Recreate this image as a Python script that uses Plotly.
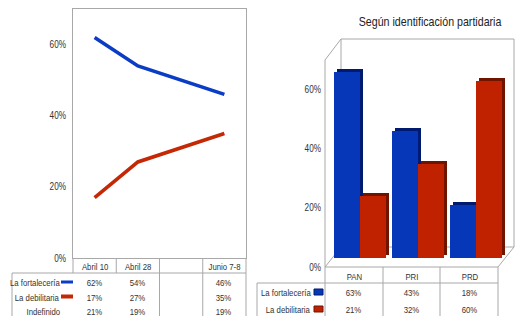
import plotly.graph_objects as go

# ---------------- data ----------------
fechas = ["Abril 10", "Abril 28", "", "Junio 7-8"]
fortaleceria_fecha = [62, 54, None, 46]
debilitaria_fecha = [17, 27, None, 35]
indefinido_fecha = [21, 19, None, 19]

partidos = ["PAN", "PRI", "PRD"]
fortaleceria_partido = [63, 43, 18]
debilitaria_partido = [21, 32, 60]

serie_nombres = ["La fortalecería", "La debilitaria", "Indefinido"]
titulo_derecha = "Según identificación partidaria"
y_ticks = [0, 20, 40, 60]

# ---------------- style ----------------
W, H = 519, 316
FONT = "Liberation Sans, Arial, sans-serif"
BLUE = "#0a3cc4"
RED = "#c42805"
BAR_BLUE = "#0537b8"
BAR_RED = "#c02200"
DARK_BLUE = "#001a70"
DARK_RED = "#701400"
GRID = "#a8a8a8"
TXT = "#333333"
TS = 9.5  # table font size


def px(x):
    return x / W


def py(y):
    return 1 - y / H


def fmt(v):
    return "" if v is None else f"{v}%"


fig = go.Figure()
xs = list(range(len(fechas)))

# left line chart
fig.add_trace(go.Scatter(x=xs, y=fortaleceria_fecha, mode="lines", connectgaps=True,
                         line=dict(color=BLUE, width=3.6), xaxis="x", yaxis="y",
                         showlegend=False, hoverinfo="skip"))
fig.add_trace(go.Scatter(x=xs, y=debilitaria_fecha, mode="lines", connectgaps=True,
                         line=dict(color=RED, width=3.6), xaxis="x", yaxis="y",
                         showlegend=False, hoverinfo="skip"))

# right pseudo-3D bars
xb = list(range(len(partidos)))
bw = 0.44
dx = 3 / 58.0
dy = 1.0
fig.add_trace(go.Bar(x=xb, y=fortaleceria_partido, base=dy, offset=-bw + dx, width=bw,
                     marker=dict(color=DARK_BLUE, line=dict(width=0)),
                     xaxis="x2", yaxis="y2", showlegend=False, hoverinfo="skip"))
fig.add_trace(go.Bar(x=xb, y=fortaleceria_partido, offset=-bw, width=bw,
                     marker=dict(color=BAR_BLUE, line=dict(width=0)),
                     xaxis="x2", yaxis="y2", showlegend=False, hoverinfo="skip"))
fig.add_trace(go.Bar(x=xb, y=debilitaria_partido, base=dy, offset=dx, width=bw,
                     marker=dict(color=DARK_RED, line=dict(width=0)),
                     xaxis="x2", yaxis="y2", showlegend=False, hoverinfo="skip"))
fig.add_trace(go.Bar(x=xb, y=debilitaria_partido, offset=0, width=bw,
                     marker=dict(color=BAR_RED, line=dict(width=0)),
                     xaxis="x2", yaxis="y2", showlegend=False, hoverinfo="skip"))
# dummy trace so the front-plane tick axis is drawn
fig.add_trace(go.Scatter(x=[None], y=[None], xaxis="x2", yaxis="y3", showlegend=False,
                         hoverinfo="skip"))

shapes = []
annotations = []


def line(x0, y0, x1, y1, xref="paper", color=GRID, w=1):
    shapes.append(dict(type="line", xref=xref, yref="paper", x0=x0, y0=py(y0),
                       x1=x1, y1=py(y1), line=dict(color=color, width=w), layer="below"))


def note(x, y, text, xref="paper", anchor="center", size=TS, xshift=0, color=TXT):
    annotations.append(dict(x=x, y=y, xref=xref, yref="paper", text=text, showarrow=False,
                            xanchor=anchor, yanchor="middle",
                            align={"center": "center", "right": "right", "left": "left"}[anchor],
                            xshift=xshift, font=dict(size=size, color=color, family=FONT)))


# ---- 3D walls of right chart (paper px) ----
bx0, bx1, by0, by1 = 341, 514, 39, 247   # back wall
fx0, fx1, fy0, fy1 = 325, 498, 60, 267   # front plane
shapes.append(dict(type="path", xref="paper", yref="paper", layer="below",
                   path=f"M{px(bx0)},{py(by1)} L{px(bx0)},{py(by0)} L{px(bx1)},{py(by0)} L{px(bx1)},{py(by1)} Z",
                   line=dict(color=GRID, width=1)))
shapes.append(dict(type="path", xref="paper", yref="paper", layer="below",
                   path=f"M{px(bx0)},{py(by0)} L{px(fx0)},{py(fy0)} L{px(fx0)},{py(fy1)} L{px(bx0)},{py(by1)}",
                   line=dict(color=GRID, width=1)))
shapes.append(dict(type="path", xref="paper", yref="paper", layer="below",
                   path=f"M{px(fx0)},{py(fy1)} L{px(fx1)},{py(fy1)} L{px(bx1)},{py(by1)}",
                   line=dict(color=GRID, width=1)))

# ---- left table ----
lt_top, lt_head, lt_bot = 258, 273, 316
line(px(73), lt_top, px(73), lt_head)
for i in range(len(fechas) - 1):
    bottom = lt_head if i == 0 else lt_bot
    line(i + 0.5, lt_top, i + 0.5, bottom, xref="x")
line(px(246), lt_top, px(246), lt_bot)
line(px(12), lt_head, px(246), lt_head)
line(px(12), lt_head, px(12), lt_bot)

row_y_left = [282, 297, 311]
for i, f in enumerate(fechas):
    note(i, py(266), f, xref="x")
for r, vals in enumerate([fortaleceria_fecha, debilitaria_fecha, indefinido_fecha]):
    for i, v in enumerate(vals):
        note(i, py(row_y_left[r]), fmt(v), xref="x")
    note(px(62), py(row_y_left[r]), serie_nombres[r], anchor="right")
shapes.append(dict(type="rect", xref="paper", yref="paper", x0=px(61), x1=px(73),
                   y0=py(280.5), y1=py(283.5), fillcolor=BLUE, line=dict(width=0)))
shapes.append(dict(type="rect", xref="paper", yref="paper", x0=px(61), x1=px(73),
                   y0=py(294.5), y1=py(298.5), fillcolor=RED, line=dict(width=0)))

# ---- right table ----
rt_top, rt_head, rt_bot = 267, 283, 316
for xv in [325, 383, 440, 498]:
    line(px(xv), rt_top, px(xv), rt_bot)
line(px(257), rt_head, px(498), rt_head)
line(px(257), rt_head, px(257), rt_bot)

row_y_right = [292, 309]
for i, p in enumerate(partidos):
    note(i, py(276), p, xref="x2", xshift=-6)
for r, vals in enumerate([fortaleceria_partido, debilitaria_partido]):
    for i, v in enumerate(vals):
        note(i, py(row_y_right[r]), fmt(v), xref="x2", xshift=-6)
    note(px(312.5), py(row_y_right[r]), serie_nombres[r], anchor="right")
for r, (c, dc) in enumerate([(BAR_BLUE, DARK_BLUE), (BAR_RED, DARK_RED)]):
    yc = row_y_right[r]
    shapes.append(dict(type="rect", xref="paper", yref="paper", x0=px(314), x1=px(323),
                       y0=py(yc - 3), y1=py(yc + 3), fillcolor=c, line=dict(width=1, color=dc)))

# title
note(px(430), py(21), titulo_derecha, size=13, color="#222222")

tick_text = [f"{v}%" for v in y_ticks]
fig.update_layout(
    width=W, height=H, autosize=False,
    margin=dict(l=0, r=0, t=0, b=0, pad=0, autoexpand=False),
    paper_bgcolor="white", plot_bgcolor="rgba(0,0,0,0)",
    showlegend=False,
    barmode="overlay", bargap=0,
    font=dict(family=FONT, size=10, color=TXT),
    shapes=shapes, annotations=annotations,
    xaxis=dict(domain=[px(73), px(246)], range=[-0.5, 3.5], showticklabels=False,
               showgrid=False, zeroline=False, showline=True, mirror=True,
               linecolor=GRID, linewidth=1, ticks="", anchor="y", automargin=False),
    yaxis=dict(domain=[py(258), py(9)], range=[0, 70], tickvals=y_ticks, ticktext=tick_text,
               showgrid=False, zeroline=False, showline=True, mirror=True,
               linecolor=GRID, linewidth=1, ticks="", ticklabelstandoff=4, automargin=False,
               tickfont=dict(size=10, color=TXT, family=FONT), anchor="x"),
    xaxis2=dict(domain=[px(331), px(505)], range=[-0.5, 2.5], showticklabels=False,
                showgrid=False, zeroline=False, showline=False, ticks="", anchor="y2",
                automargin=False),
    yaxis2=dict(domain=[py(258), py(258 - 70 * 2.95)], range=[0, 70], showticklabels=False,
                showgrid=False, zeroline=False, showline=False, ticks="", anchor="x2",
                automargin=False),
    yaxis3=dict(domain=[py(fy1), py(fy0)], range=[0, 70], tickvals=y_ticks, ticktext=tick_text,
                showgrid=False, zeroline=False, showline=False, ticks="",
                anchor="free", position=px(fx0), ticklabelstandoff=4, automargin=False,
                tickfont=dict(size=10, color=TXT, family=FONT)),
)

post = """
document.documentElement.style.margin = '0';
document.documentElement.style.overflow = 'hidden';
document.body.style.margin = '0';
document.body.style.overflow = 'hidden';
var gd = document.getElementById('{plot_id}');
gd.style.position = 'absolute';
gd.style.left = '0px';
gd.style.top = '0px';
function squeeze() {
  gd.querySelectorAll('text').forEach(function (t) {
    var tr = t.getAttribute('transform') || '';
    if (tr.indexOf('scale(0.82') >= 0) return;
    var X = parseFloat(t.getAttribute('x') || '0');
    t.setAttribute('transform', tr + ' translate(' + X + ',0) scale(0.82,1) translate(' + (-X) + ',0)');
  });
}
squeeze();
setTimeout(squeeze, 50);
setTimeout(squeeze, 300);
"""

fig.write_html("out.html", post_script=post, config={"staticPlot": True})
